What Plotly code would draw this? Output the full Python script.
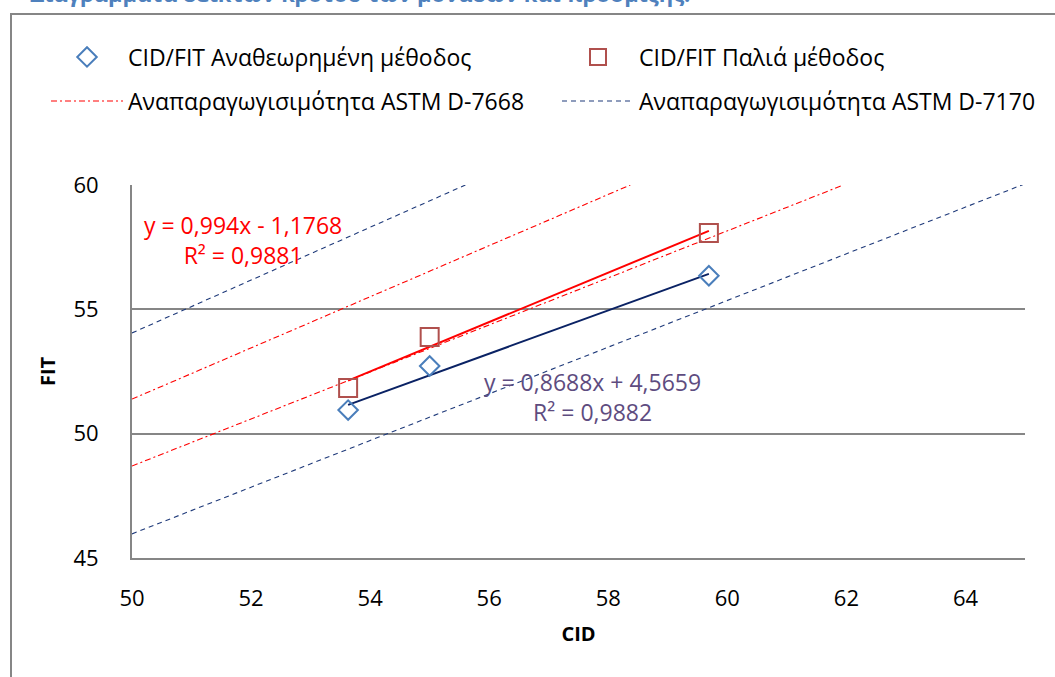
import plotly.graph_objects as go

# ---------------- data ----------------
cid_revised = [53.63, 55.0, 59.69]
fit_revised = [50.95, 52.72, 56.35]
cid_old = [53.63, 55.0, 59.69]
fit_old = [51.84, 53.89, 58.07]

# trendline coefficients (as shown on the chart)
old_slope, old_icpt, old_r2 = 0.994, -1.1768, 0.9881
rev_slope, rev_icpt, rev_r2 = 0.8688, 4.5659, 0.9882

# reproducibility limit lines
astm7668_up_x = [50.0, 58.37]
astm7668_up_y = [51.39, 60.0]
astm7668_lo_x = [50.0, 61.95]
astm7668_lo_y = [48.70, 60.0]
astm7170_up_x = [50.0, 55.6]
astm7170_up_y = [54.05, 60.0]
astm7170_lo_x = [50.0, 65.0]
astm7170_lo_y = [45.97, 60.05]

x_ticks = [50, 52, 54, 56, 58, 60, 62, 64]
y_ticks = [45, 50, 55, 60]

names = ["CID/FIT Αναθεωρημένη μέθοδος", "CID/FIT Παλιά μέθοδος",
         "Αναπαραγωγισιμότητα ASTM D-7668", "Αναπαραγωγισιμότητα ASTM D-7170"]

FONT = "Open Sans"

# ---------------- layout geometry ----------------
W, H = 1055, 677
L, R, T, B = 132, 1025, 185, 558


def px_x(p):
    return (p - L) / (R - L)


def px_y(p):
    return (B - p) / (B - T)


fig = go.Figure()


def fit_line(xs, m, c):
    xa = [min(xs), max(xs)]
    return xa, [m * v + c for v in xa]


def num(v):
    return str(v).replace(".", ",")


tx, ty = fit_line(cid_old, old_slope, old_icpt)
fig.add_trace(go.Scatter(x=tx, y=ty, mode="lines", line=dict(color="#FF0000", width=2),
                         showlegend=False, hoverinfo="skip"))
tx, ty = fit_line(cid_revised, rev_slope, rev_icpt)
fig.add_trace(go.Scatter(x=tx, y=ty, mode="lines", line=dict(color="#0A2264", width=2),
                         showlegend=False, hoverinfo="skip"))

red_dash = "6px,3px,2px,3px"
blue_dash = "5px,4px"
fig.add_trace(go.Scatter(x=astm7668_up_x, y=astm7668_up_y, mode="lines",
                         line=dict(color="#FF0000", width=1.1, dash=red_dash),
                         name=names[2], legend="legend3", legendgroup="a"))
fig.add_trace(go.Scatter(x=astm7668_lo_x, y=astm7668_lo_y, mode="lines",
                         line=dict(color="#FF0000", width=1.1, dash=red_dash),
                         name=names[2], showlegend=False, legendgroup="a"))
fig.add_trace(go.Scatter(x=astm7170_up_x, y=astm7170_up_y, mode="lines",
                         line=dict(color="#1F3A7A", width=1.1, dash=blue_dash),
                         name=names[3], legend="legend4", legendgroup="b"))
fig.add_trace(go.Scatter(x=astm7170_lo_x, y=astm7170_lo_y, mode="lines",
                         line=dict(color="#1F3A7A", width=1.1, dash=blue_dash),
                         name=names[3], showlegend=False, legendgroup="b"))

fig.add_trace(go.Scatter(x=cid_revised, y=fit_revised, mode="markers", name=names[0],
                         marker=dict(symbol="diamond-open", size=15, color="#4A7EBB",
                                     line=dict(width=2, color="#4A7EBB")),
                         legend="legend"))
fig.add_trace(go.Scatter(x=cid_old, y=fit_old, mode="markers", name=names[1],
                         marker=dict(symbol="square-open", size=18, color="#B0504D",
                                     line=dict(width=2, color="#B0504D")),
                         legend="legend2"))

fig.add_annotation(x=px_x(243), y=px_y(240), xref="paper", yref="paper",
                   xanchor="center", yanchor="middle",
                   text="y = %sx - %s<br>R² = %s" % (num(old_slope), num(abs(old_icpt)), num(old_r2)),
                   showarrow=False, align="center", font=dict(family=FONT, size=23, color="#FF0000"))
fig.add_annotation(x=px_x(592), y=px_y(397), xref="paper", yref="paper",
                   xanchor="center", yanchor="middle",
                   text="y = %sx + %s<br>R² = %s" % (num(rev_slope), num(rev_icpt), num(rev_r2)),
                   showarrow=False, align="center", font=dict(family=FONT, size=23, color="#5E4C7F"))

# cropped heading at the very top
fig.add_annotation(x=px_x(692), y=px_y(-7), xref="paper", yref="paper", xanchor="right",
                   yanchor="middle",
                   text="<b>Διαγράμματα δεικτών κρότου των μονάδων και πρόσμιξης.</b>",
                   showarrow=False, font=dict(family=FONT, size=22, color="#4F81BD"))

# outer chart border
fig.add_shape(type="rect", xref="paper", yref="paper",
              x0=px_x(11), x1=px_x(1070), y0=px_y(700), y1=px_y(14),
              line=dict(color="#868686", width=2), fillcolor="rgba(0,0,0,0)", layer="below")

leg_common = dict(orientation="h", xanchor="left", yanchor="middle", itemwidth=72,
                  font=dict(family=FONT, size=23, color="black"), bgcolor="rgba(0,0,0,0)")

fig.update_layout(
    width=W, height=H,
    margin=dict(l=L, r=W - R, t=T, b=H - B),
    paper_bgcolor="white", plot_bgcolor="white",
    font=dict(family=FONT, size=18, color="black"),
    legend=dict(x=px_x(46), y=px_y(57), **leg_common),
    legend2=dict(x=px_x(557), y=px_y(57), **leg_common),
    legend3=dict(x=px_x(46), y=px_y(101), **leg_common),
    legend4=dict(x=px_x(557), y=px_y(101), **leg_common),
    xaxis=dict(range=[50, 65], tickvals=x_ticks, showgrid=False, zeroline=False,
               showline=True, linecolor="#868686", linewidth=2, ticks="",
               ticklabelstandoff=20, tickfont=dict(family=FONT, size=22),
               title=dict(text="<b>CID</b>", font=dict(family=FONT, size=20), standoff=16)),
    yaxis=dict(range=[45, 60], tickvals=y_ticks, showgrid=True, gridcolor="#868686", gridwidth=1.5,
               zeroline=False, showline=True, linecolor="#868686", linewidth=2, ticks="",
               ticklabelstandoff=27, tickfont=dict(family=FONT, size=22),
               title=dict(text="<b>FIT</b>", font=dict(family=FONT, size=20), standoff=12)),
)

fig.write_html("out.html")
